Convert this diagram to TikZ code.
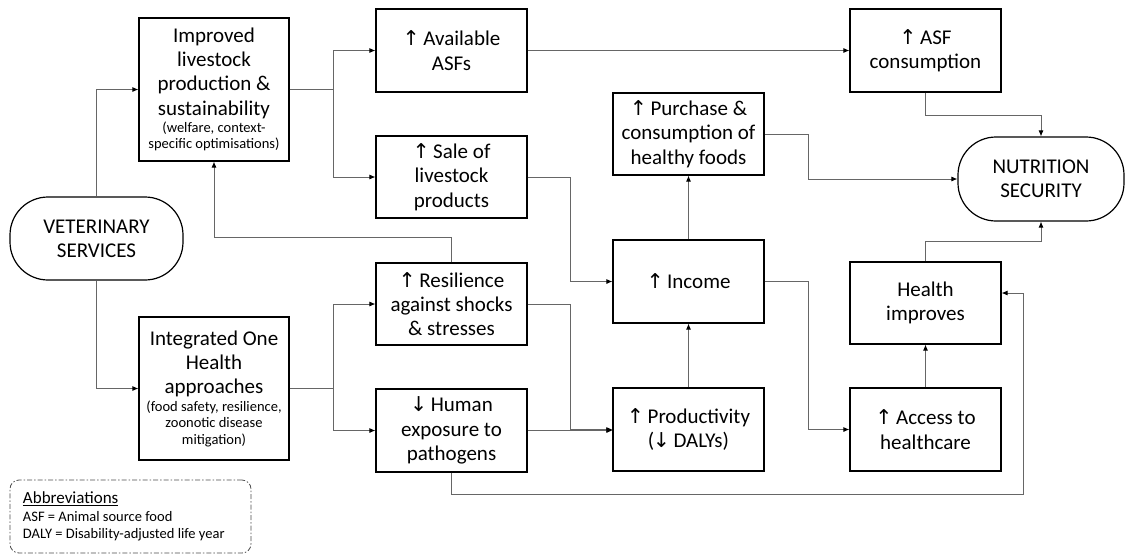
\documentclass[tikz,border=0pt]{standalone}
\usepackage{fontspec}
\setmainfont{Carlito}
\newfontfamily\arrowfont{DejaVu Sans}
\usetikzlibrary{arrows.meta,calc}
\newcommand{\ua}{{\arrowfont\fontsize{20.5}{20.5}\selectfont ↑}}
\newcommand{\da}{{\arrowfont\fontsize{20.5}{20.5}\selectfont ↓}}
\newcommand{\smalltxt}{\fontsize{14.5}{16.5}\selectfont}
\tikzset{
  box/.style={draw=black, line width=1.2pt, align=center, inner sep=2pt,
    font=\fontsize{21}{24.3}\selectfont},
  term/.style={box, rounded corners=38pt},
  conn/.style={draw=black!60, line width=0.8pt},
  arr/.style={conn, -{Latex[length=6pt,width=5pt,color=black]}},
  abbrframe/.style={draw=black!70, line width=0.8pt, rounded corners=9pt,
    dash pattern=on 5pt off 2pt on 1.5pt off 2pt, align=flush left, inner sep=0pt,
    font=\fontsize{14.5}{17.5}\selectfont}
}
\begin{document}
\begin{tikzpicture}[x=1pt,y=-1pt]
\useasboundingbox (0,0) rectangle (1125,555);
% nodes
\node[term, minimum width=173pt, minimum height=83pt] (vet) at (96.5,238.5) {VETERINARY\\SERVICES};
\node[box, minimum width=150pt, minimum height=143pt] (imp) at (214,89.5)
  {Improved\\livestock\\production \&\\sustainability\\[-7pt]{\smalltxt (welfare, context-}\\[-7.8pt]{\smalltxt specific optimisations)}};
\node[box, minimum width=150pt, minimum height=143pt] (oh) at (214,388.5)
  {Integrated One\\Health\\approaches\\[-7pt]{\smalltxt (food safety, resilience,}\\[-7.8pt]{\smalltxt zoonotic disease}\\[-7.8pt]{\smalltxt mitigation)}};
\node[box, minimum width=151pt, minimum height=83pt] (avail) at (451.5,50.5) {\ua\,Available\\ASFs};
\node[box, minimum width=151pt, minimum height=82pt] (sale) at (451.5,177) {\ua\,Sale of\\livestock\\products};
\node[box, minimum width=151pt, minimum height=82pt] (resil) at (451.5,304) {\ua\,Resilience\\against shocks\\\& stresses};
\node[box, minimum width=151pt, minimum height=83pt] (human) at (451.5,430.5) {\da\,Human\\exposure to\\pathogens};
\node[box, minimum width=151pt, minimum height=82pt] (purch) at (688.5,134) {\ua\,Purchase \&\\consumption of\\healthy foods};
\node[box, minimum width=151pt, minimum height=83pt] (income) at (688.5,281.5) {\ua\,Income};
\node[box, minimum width=151pt, minimum height=83pt] (prod) at (688.5,429.5) {\ua\,Productivity\\(\kern-1.5pt\da\,DALYs)};
\node[box, minimum width=151pt, minimum height=83pt] (asfc) at (925.5,50.5) {\ua\,ASF\\consumption};
\node[term, minimum width=166pt, minimum height=84pt] (nutr) at (1041,179) {NUTRITION\\SECURITY};
\node[box, minimum width=151pt, minimum height=82pt] (health) at (925.5,303) {Health\\improves};
\node[box, minimum width=151pt, minimum height=83pt] (access) at (925.5,429.5) {\ua\,Access to\\healthcare};
\node[abbrframe, minimum width=241pt, minimum height=73pt, text width=215pt] (abbr) at (130.5,516.5)
  {{\fontsize{17}{18}\selectfont\underline{Abbreviations}}\\ASF = Animal source food\\DALY = Disability-adjusted life year};
% junctions
\coordinate (j1) at (333,89.5);
\coordinate (j2) at (333,388.5);
% connectors
\draw[arr] (vet.north) |- (imp.west);
\draw[arr] (vet.south) |- (oh.west);
\draw[conn] (imp.east) -- (j1);
\draw[arr] (j1) |- (avail.west);
\draw[arr] (j1) |- (sale.west);
\draw[conn] (oh.east) -- (j2);
\draw[arr] (j2) |- (resil.west);
\draw[arr] (j2) |- (human.west);
\draw[arr] (resil.north) -- ++(0,-25) -| (imp.south);
\draw[arr] (avail.east) -- (asfc.west);
\draw[arr] (sale.east) -- (570,177) |- (income.west);
\draw[arr] (resil.east) -- (570,304) |- (prod.west);
\draw[arr] (human.east) -- (human.east -| prod.west);
\draw[arr] (prod.north) -- (income.south);
\draw[arr] (income.north) -- (purch.south);
\draw[arr] (purch.east) -- (808,134) |- (nutr.west);
\draw[arr] (asfc.south) -- (925.5,115) -| (nutr.north);
\draw[arr] (health.north) -- (925.5,241) -| (nutr.south);
\draw[arr] (income.east) -- (808,281.5) |- (access.west);
\draw[arr] (access.north) -- (health.south);
\draw[arr] (human.south) |- (1023,494) |- ([yshift=10pt]health.east);
\end{tikzpicture}
\end{document}
